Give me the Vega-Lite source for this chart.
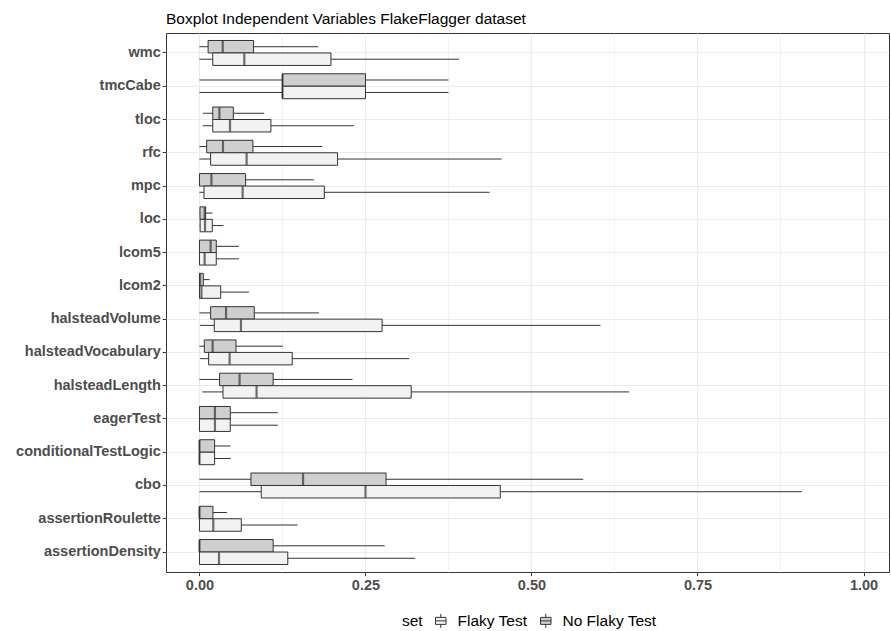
{
  "$schema": "https://vega.github.io/schema/vega-lite/v6.json",
  "width": 723,
  "height": 539,
  "autosize": {"type": "none"},
  "padding": {"left": 166, "top": 33, "right": 2, "bottom": 59},
  "background": "white",
  "title": {
    "text": "Boxplot Independent Variables FlakeFlagger dataset",
    "anchor": "start",
    "frame": "group",
    "font": "Liberation Sans",
    "fontSize": 15.5,
    "fontWeight": "normal",
    "color": "#000000",
    "baseline": "alphabetic",
    "offset": 9,
    "dy": 15
  },
  "config": {
    "view": {"stroke": "#333333", "strokeWidth": 1, "fill": "white"},
    "font": "Liberation Sans"
  },
  "data": {
    "values": [
      {"var": "wmc", "set": "No Flaky Test", "lo": 0, "q1": 0.013, "med": 0.035, "q3": 0.0815, "hi": 0.179},
      {"var": "wmc", "set": "Flaky Test", "lo": 0, "q1": 0.02, "med": 0.0675, "q3": 0.198, "hi": 0.391},
      {"var": "tmcCabe", "set": "No Flaky Test", "lo": 0, "q1": 0.125, "med": 0.125, "q3": 0.25, "hi": 0.375},
      {"var": "tmcCabe", "set": "Flaky Test", "lo": 0, "q1": 0.125, "med": 0.125, "q3": 0.25, "hi": 0.375},
      {"var": "tloc", "set": "No Flaky Test", "lo": 0.005, "q1": 0.02, "med": 0.03, "q3": 0.051, "hi": 0.0975},
      {"var": "tloc", "set": "Flaky Test", "lo": 0.005, "q1": 0.02, "med": 0.046, "q3": 0.1076, "hi": 0.2325},
      {"var": "rfc", "set": "No Flaky Test", "lo": 0, "q1": 0.0108, "med": 0.0354, "q3": 0.0805, "hi": 0.185},
      {"var": "rfc", "set": "Flaky Test", "lo": 0, "q1": 0.0168, "med": 0.071, "q3": 0.208, "hi": 0.455},
      {"var": "mpc", "set": "No Flaky Test", "lo": 0, "q1": 0, "med": 0.018, "q3": 0.0695, "hi": 0.1723},
      {"var": "mpc", "set": "Flaky Test", "lo": 0, "q1": 0.0068, "med": 0.065, "q3": 0.188, "hi": 0.437},
      {"var": "loc", "set": "No Flaky Test", "lo": 0, "q1": 0.0008, "med": 0.0078, "q3": 0.0093, "hi": 0.0198},
      {"var": "loc", "set": "Flaky Test", "lo": 0, "q1": 0.001, "med": 0.0083, "q3": 0.0193, "hi": 0.036},
      {"var": "lcom5", "set": "No Flaky Test", "lo": 0, "q1": 0, "med": 0.0168, "q3": 0.0253, "hi": 0.0594},
      {"var": "lcom5", "set": "Flaky Test", "lo": 0, "q1": 0, "med": 0.0078, "q3": 0.0253, "hi": 0.0594},
      {"var": "lcom2", "set": "No Flaky Test", "lo": 0, "q1": 0, "med": 0.001, "q3": 0.0058, "hi": 0.0153},
      {"var": "lcom2", "set": "Flaky Test", "lo": 0, "q1": 0, "med": 0.003, "q3": 0.032, "hi": 0.0745},
      {"var": "halsteadVolume", "set": "No Flaky Test", "lo": 0, "q1": 0.0168, "med": 0.04, "q3": 0.0825, "hi": 0.18},
      {"var": "halsteadVolume", "set": "Flaky Test", "lo": 0.001, "q1": 0.0223, "med": 0.0625, "q3": 0.275, "hi": 0.604},
      {"var": "halsteadVocabulary", "set": "No Flaky Test", "lo": 0, "q1": 0.0073, "med": 0.0198, "q3": 0.055, "hi": 0.1257},
      {"var": "halsteadVocabulary", "set": "Flaky Test", "lo": 0.001, "q1": 0.0138, "med": 0.0454, "q3": 0.1397, "hi": 0.316},
      {"var": "halsteadLength", "set": "No Flaky Test", "lo": 0, "q1": 0.0303, "med": 0.0604, "q3": 0.111, "hi": 0.2305},
      {"var": "halsteadLength", "set": "Flaky Test", "lo": 0.0043, "q1": 0.0354, "med": 0.086, "q3": 0.3188, "hi": 0.647},
      {"var": "eagerTest", "set": "No Flaky Test", "lo": 0, "q1": 0, "med": 0.0233, "q3": 0.0464, "hi": 0.118},
      {"var": "eagerTest", "set": "Flaky Test", "lo": 0, "q1": 0, "med": 0.0233, "q3": 0.0464, "hi": 0.118},
      {"var": "conditionalTestLogic", "set": "No Flaky Test", "lo": 0, "q1": 0, "med": 0, "q3": 0.0228, "hi": 0.047},
      {"var": "conditionalTestLogic", "set": "Flaky Test", "lo": 0, "q1": 0, "med": 0, "q3": 0.0228, "hi": 0.047},
      {"var": "cbo", "set": "No Flaky Test", "lo": 0, "q1": 0.0775, "med": 0.156, "q3": 0.281, "hi": 0.578},
      {"var": "cbo", "set": "Flaky Test", "lo": 0, "q1": 0.093, "med": 0.25, "q3": 0.453, "hi": 0.907},
      {"var": "assertionRoulette", "set": "No Flaky Test", "lo": 0, "q1": 0, "med": 0, "q3": 0.0203, "hi": 0.0414},
      {"var": "assertionRoulette", "set": "Flaky Test", "lo": 0, "q1": 0, "med": 0.0208, "q3": 0.063, "hi": 0.1477},
      {"var": "assertionDensity", "set": "No Flaky Test", "lo": 0, "q1": 0, "med": 0, "q3": 0.111, "hi": 0.279},
      {"var": "assertionDensity", "set": "Flaky Test", "lo": 0, "q1": 0, "med": 0.0294, "q3": 0.133, "hi": 0.325}
    ]
  },
  "encoding": {
    "y": {
      "field": "var",
      "type": "nominal",
      "sort": ["wmc", "tmcCabe", "tloc", "rfc", "mpc", "loc", "lcom5", "lcom2", "halsteadVolume", "halsteadVocabulary", "halsteadLength", "eagerTest", "conditionalTestLogic", "cbo", "assertionRoulette", "assertionDensity"],
      "scale": {"paddingInner": 0.25, "paddingOuter": 0.225},
      "axis": {
        "title": null,
        "bandPosition": 0.5,
        "grid": true,
        "gridColor": "#EBEBEB",
        "gridWidth": 1.1,
        "domain": false,
        "ticks": true,
        "tickColor": "#333333",
        "tickSize": 3.7,
        "tickWidth": 1,
        "labelFont": "Liberation Sans",
        "labelFontSize": 14.5,
        "labelFontWeight": "bold",
        "labelColor": "#4D4D4D",
        "labelPadding": 2
      }
    },
    "yOffset": {
      "field": "set",
      "type": "nominal",
      "sort": ["No Flaky Test", "Flaky Test"],
      "scale": {"paddingInner": 0, "paddingOuter": 0}
    }
  },
  "layer": [
    {
      "mark": {"type": "rule", "color": "#333333", "strokeWidth": 1},
      "encoding": {
        "x": {
          "field": "lo",
          "type": "quantitative",
          "scale": {"domain": [-0.0504, 1.0384], "nice": false, "zero": false},
          "axis": {
            "title": null,
            "values": [0, 0.125, 0.25, 0.375, 0.5, 0.625, 0.75, 0.875, 1],
            "labelExpr": "(datum.value * 4) % 1 === 0 ? format(datum.value, '.2f') : ''",
            "grid": true,
            "gridColor": "#EBEBEB",
            "gridWidth": {"condition": {"test": "(datum.value * 4) % 1 !== 0", "value": 0.6}, "value": 1.1},
            "domain": false,
            "tickColor": "#333333",
            "tickSize": 3.7,
            "tickWidth": 1,
            "tickOpacity": {"condition": {"test": "(datum.value * 4) % 1 !== 0", "value": 0}, "value": 1},
            "labelFont": "Liberation Sans",
            "labelFontSize": 14.5,
            "labelFontWeight": "bold",
            "labelColor": "#4D4D4D",
            "labelPadding": 3
          }
        },
        "x2": {"field": "hi"}
      }
    },
    {
      "mark": {"type": "bar", "stroke": "#333333", "strokeWidth": 1},
      "encoding": {
        "x": {"field": "q1", "type": "quantitative"},
        "x2": {"field": "q3"},
        "fill": {
          "field": "set",
          "type": "nominal",
          "scale": {"domain": ["Flaky Test", "No Flaky Test"], "range": ["#F2F2F2", "#CFCFCF"]},
          "legend": {
            "title": "set",
            "orient": "none",
            "legendX": 236,
            "legendY": 580,
            "direction": "horizontal",
            "titleOrient": "left",
            "titleFont": "Liberation Sans",
            "titleFontSize": 15.5,
            "titleFontWeight": "normal",
            "titleColor": "#000000",
            "titlePadding": 10,
            "labelFont": "Liberation Sans",
            "labelFontSize": 15.5,
            "labelColor": "#000000",
            "labelOffset": 9,
            "columnPadding": 10,
            "symbolType": "M-0.75,-0.5H0.75V0.5H-0.75Z M-0.75,0H0.75 M0,-0.5V-1 M0,0.5V1",
            "symbolSize": 196,
            "symbolStrokeColor": "#333333",
            "symbolStrokeWidth": 1
          }
        }
      }
    },
    {
      "mark": {"type": "tick", "color": "#333333", "thickness": 2.2, "size": 12},
      "encoding": {
        "x": {"field": "med", "type": "quantitative"}
      }
    }
  ]
}
